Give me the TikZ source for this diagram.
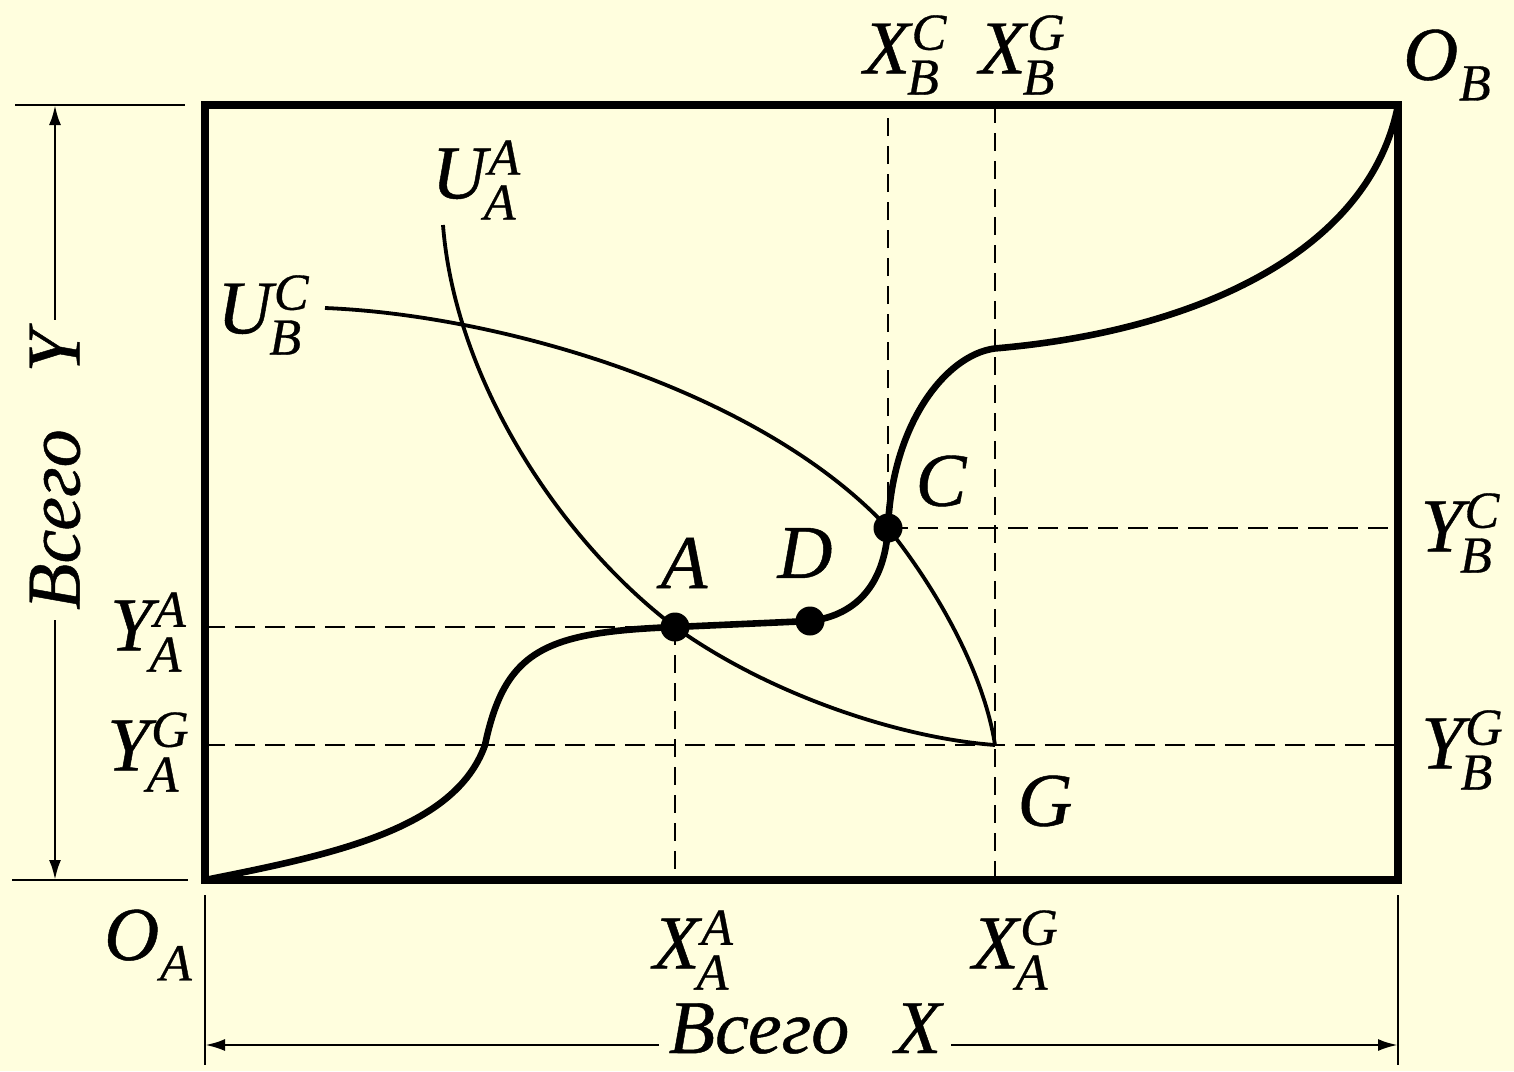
\documentclass[tikz,border=0pt]{standalone}
\usepackage{fontspec}
\setmainfont{Liberation Serif}
\newfontfamily\labfont{Liberation Serif}[FakeBold=0.6]
\usetikzlibrary{arrows.meta}
\definecolor{bg}{RGB}{255,254,222}
\newcommand\scr{\fontsize{26}{26}\selectfont}
\newcommand\lab[3]{#1\kern0.02em\ooalign{\raisebox{0.31em}{\scr #2}\cr\kern-0.06em\raisebox{-0.28em}{\scr #3}\cr}}
\newcommand\labsub[2]{#1\kern0.01em\raisebox{-0.27em}{\scr #2}}
\begin{document}
\begin{tikzpicture}[x=0.5pt,y=-0.5pt,
  lbl/.style={font=\labfont\fontsize{38}{40}\selectfont\itshape, inner sep=0pt},
  frame/.style={line width=3.6pt, line join=miter},
  contract/.style={line width=3.3pt, line cap=round},
  indiff/.style={line width=1.9pt},
  guide/.style={line width=1.4pt, dash pattern=on 10pt off 5pt},
  vguide/.style={line width=1.2pt, dash pattern=on 9pt off 5pt},
  dim/.style={line width=1.4pt},
  dimarrow/.style={dim, {Latex[length=10pt,width=6pt]}-{Latex[length=10pt,width=6pt]}},
  dot/.style={circle, fill=black, inner sep=0pt, minimum size=14.5pt}]
\fill[bg] (0,0) rectangle (1514,1071);
\useasboundingbox (0,0) rectangle (1514,1071);
% key points
\coordinate (OA) at (205,880);
\coordinate (OB) at (1398,105);
\coordinate (A) at (675,627);
\coordinate (D) at (810,621);
\coordinate (C) at (888,528);
\coordinate (G) at (995,745);
\coordinate (UAs) at (443,225);
\coordinate (UBs) at (325,308);
\coordinate (Ltop) at (55,105);
\coordinate (Lbot) at (55,880);
\coordinate (Bl) at (205,1045);
\coordinate (Br) at (1398,1045);
% guide lines
\draw[guide] (A) -- (A -| OA);
\draw[vguide] (A) -- (A |- OA);
\draw[guide] (G -| OA) -- (G -| OB);
\draw[vguide] (G |- OB) -- (G |- OA);
\draw[guide] (C) -- (C -| OB);
\draw[vguide] (C) -- (C |- OB);
% frame
\draw[frame] (OA) rectangle (OB);
% indifference curves
\draw[indiff] (UAs) .. controls (455,380) and (560,540) .. (A) .. controls (770,695) and (900,738) .. (G);
\draw[indiff] (UBs) .. controls (500,315) and (760,390) .. (C) .. controls (945,600) and (985,680) .. (G);
% contract curve
\draw[contract] (OA) .. controls (330,855) and (455,830) .. (485,745)
  .. controls (505,650) and (545,632) .. (A) -- (D)
  .. controls (860,615) and (885,580) .. (C)
  .. controls (892,420) and (950,350) .. (1000,348)
  .. controls (1200,330) and (1370,250) .. (OB);
\node[dot] (dA) at (A) {};
\node[dot] (dD) at (D) {};
\node[dot] (dC) at (C) {};
% dimension lines
\draw[dim] (15,105) -- (185,105);
\draw[dim] (12,880) -- (188,880);
\draw[dimarrow] (Ltop) -- (Lbot);
\node[lbl, rotate=90, fill=bg, inner xsep=5pt] (totY) at (55,470) {Всего\hspace{0.75em}Y};
\draw[dim] (205,895) -- (205,1065);
\draw[dim] (1398,895) -- (1398,1065);
\draw[dimarrow] (Bl) -- (Br);
\node[lbl, fill=bg, inner xsep=5pt, anchor=base] (totX) at (805,1053) {Всего\hspace{0.6em}X};
% labels
\node[lbl] (lOA) at (148,945) {\labsub{O}{A}};
\node[lbl] (lOB) at (1447,65) {\labsub{O}{B}};
\node[lbl] (lXBC) at (905,55) {\lab{X}{C}{B}};
\node[lbl] (lXBG) at (1022,55) {\lab{X}{G}{B}};
\node[lbl] (lUAA) at (476,180) {\lab{U}{A}{A}};
\node[lbl] (lUBC) at (263,315) {\lab{U}{C}{B}};
\node[lbl] (lYAA) at (148,632) {\lab{Y}{A}{A}};
\node[lbl] (lYAG) at (148,752) {\lab{Y}{G}{A}};
\node[lbl] (lYBC) at (1460,533) {\lab{Y}{C}{B}};
\node[lbl] (lYBG) at (1462,750) {\lab{Y}{G}{B}};
\node[lbl] (lXAA) at (693,950) {\lab{X}{A}{A}};
\node[lbl] (lXAG) at (1015,950) {\lab{X}{G}{A}};
\node[lbl] (lA) at (684,563) {A};
\node[lbl] (lD) at (805,553) {D};
\node[lbl] (lC) at (941,481) {C};
\node[lbl] (lG) at (1045,801) {G};
\end{tikzpicture}
\end{document}
